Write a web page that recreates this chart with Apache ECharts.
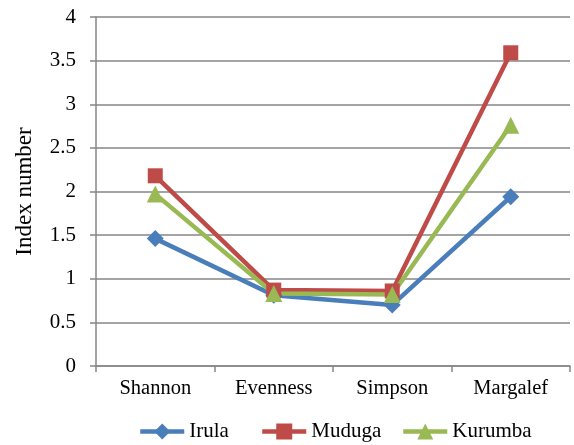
<!DOCTYPE html>
<html><head><meta charset="utf-8">
<script src="https://cdn.jsdelivr.net/npm/echarts@6/dist/echarts.min.js"></script>
<style>html,body{margin:0;padding:0;background:#fff}#c{width:574px;height:445px}</style>
</head><body><div id="c"></div>
<script>
var categories = ["Shannon", "Evenness", "Simpson", "Margalef"];
var irula = [1.46, 0.81, 0.70, 1.94];
var muduga = [2.18, 0.87, 0.86, 3.59];
var kurumba = [1.97, 0.83, 0.82, 2.76];
var seriesNames = ["Irula", "Muduga", "Kurumba"];
var yTicks = [0, 0.5, 1, 1.5, 2, 2.5, 3, 3.5, 4];

var font = "Liberation Serif";
var chart = echarts.init(document.getElementById('c'));
function ser(name, data, color, symbol, size) {
  return {name: name, type: 'line', data: data, symbol: symbol, symbolSize: size,
    lineStyle: {color: color, width: 4.5}, itemStyle: {color: color},
    emphasis: {disabled: true}, animation: false};
}
function leg(name, left) {
  return {data: [name], left: left, top: 421, itemWidth: 44, itemHeight: 20, padding: 0,
    lineStyle: {width: 4.5}, selectedMode: false,
    textStyle: {color: '#000', fontFamily: font, fontSize: 21}};
}
chart.setOption({
  animation: false,
  grid: {left: 96, right: 4, top: 17, bottom: 79},
  xAxis: {type: 'category', data: categories, boundaryGap: true,
    axisLine: {lineStyle: {color: '#868686', width: 1.5}},
    axisTick: {show: true, length: 6, lineStyle: {color: '#868686', width: 1.5}},
    axisLabel: {color: '#000', fontFamily: font, fontSize: 20.5, margin: 12}},
  yAxis: {type: 'value', min: yTicks[0], max: yTicks[yTicks.length-1], interval: 0.5,
    name: 'Index number', nameLocation: 'middle', nameGap: 60,
    nameTextStyle: {color: '#000', fontFamily: font, fontSize: 23},
    axisLine: {show: true, lineStyle: {color: '#868686', width: 1.5}},
    axisTick: {show: true, length: 6, lineStyle: {color: '#868686', width: 1.5}},
    splitLine: {lineStyle: {color: '#868686', width: 1.5}},
    axisLabel: {color: '#000', fontFamily: font, fontSize: 21, margin: 20}},
  legend: [leg(seriesNames[0], 138), leg(seriesNames[1], 260), leg(seriesNames[2], 401)],
  series: [
    ser(seriesNames[0], irula, '#4A7EBB', 'diamond', 17),
    ser(seriesNames[1], muduga, '#BE4B48', 'rect', 15),
    ser(seriesNames[2], kurumba, '#98B954', 'triangle', 17)
  ]
});
</script></body></html>
